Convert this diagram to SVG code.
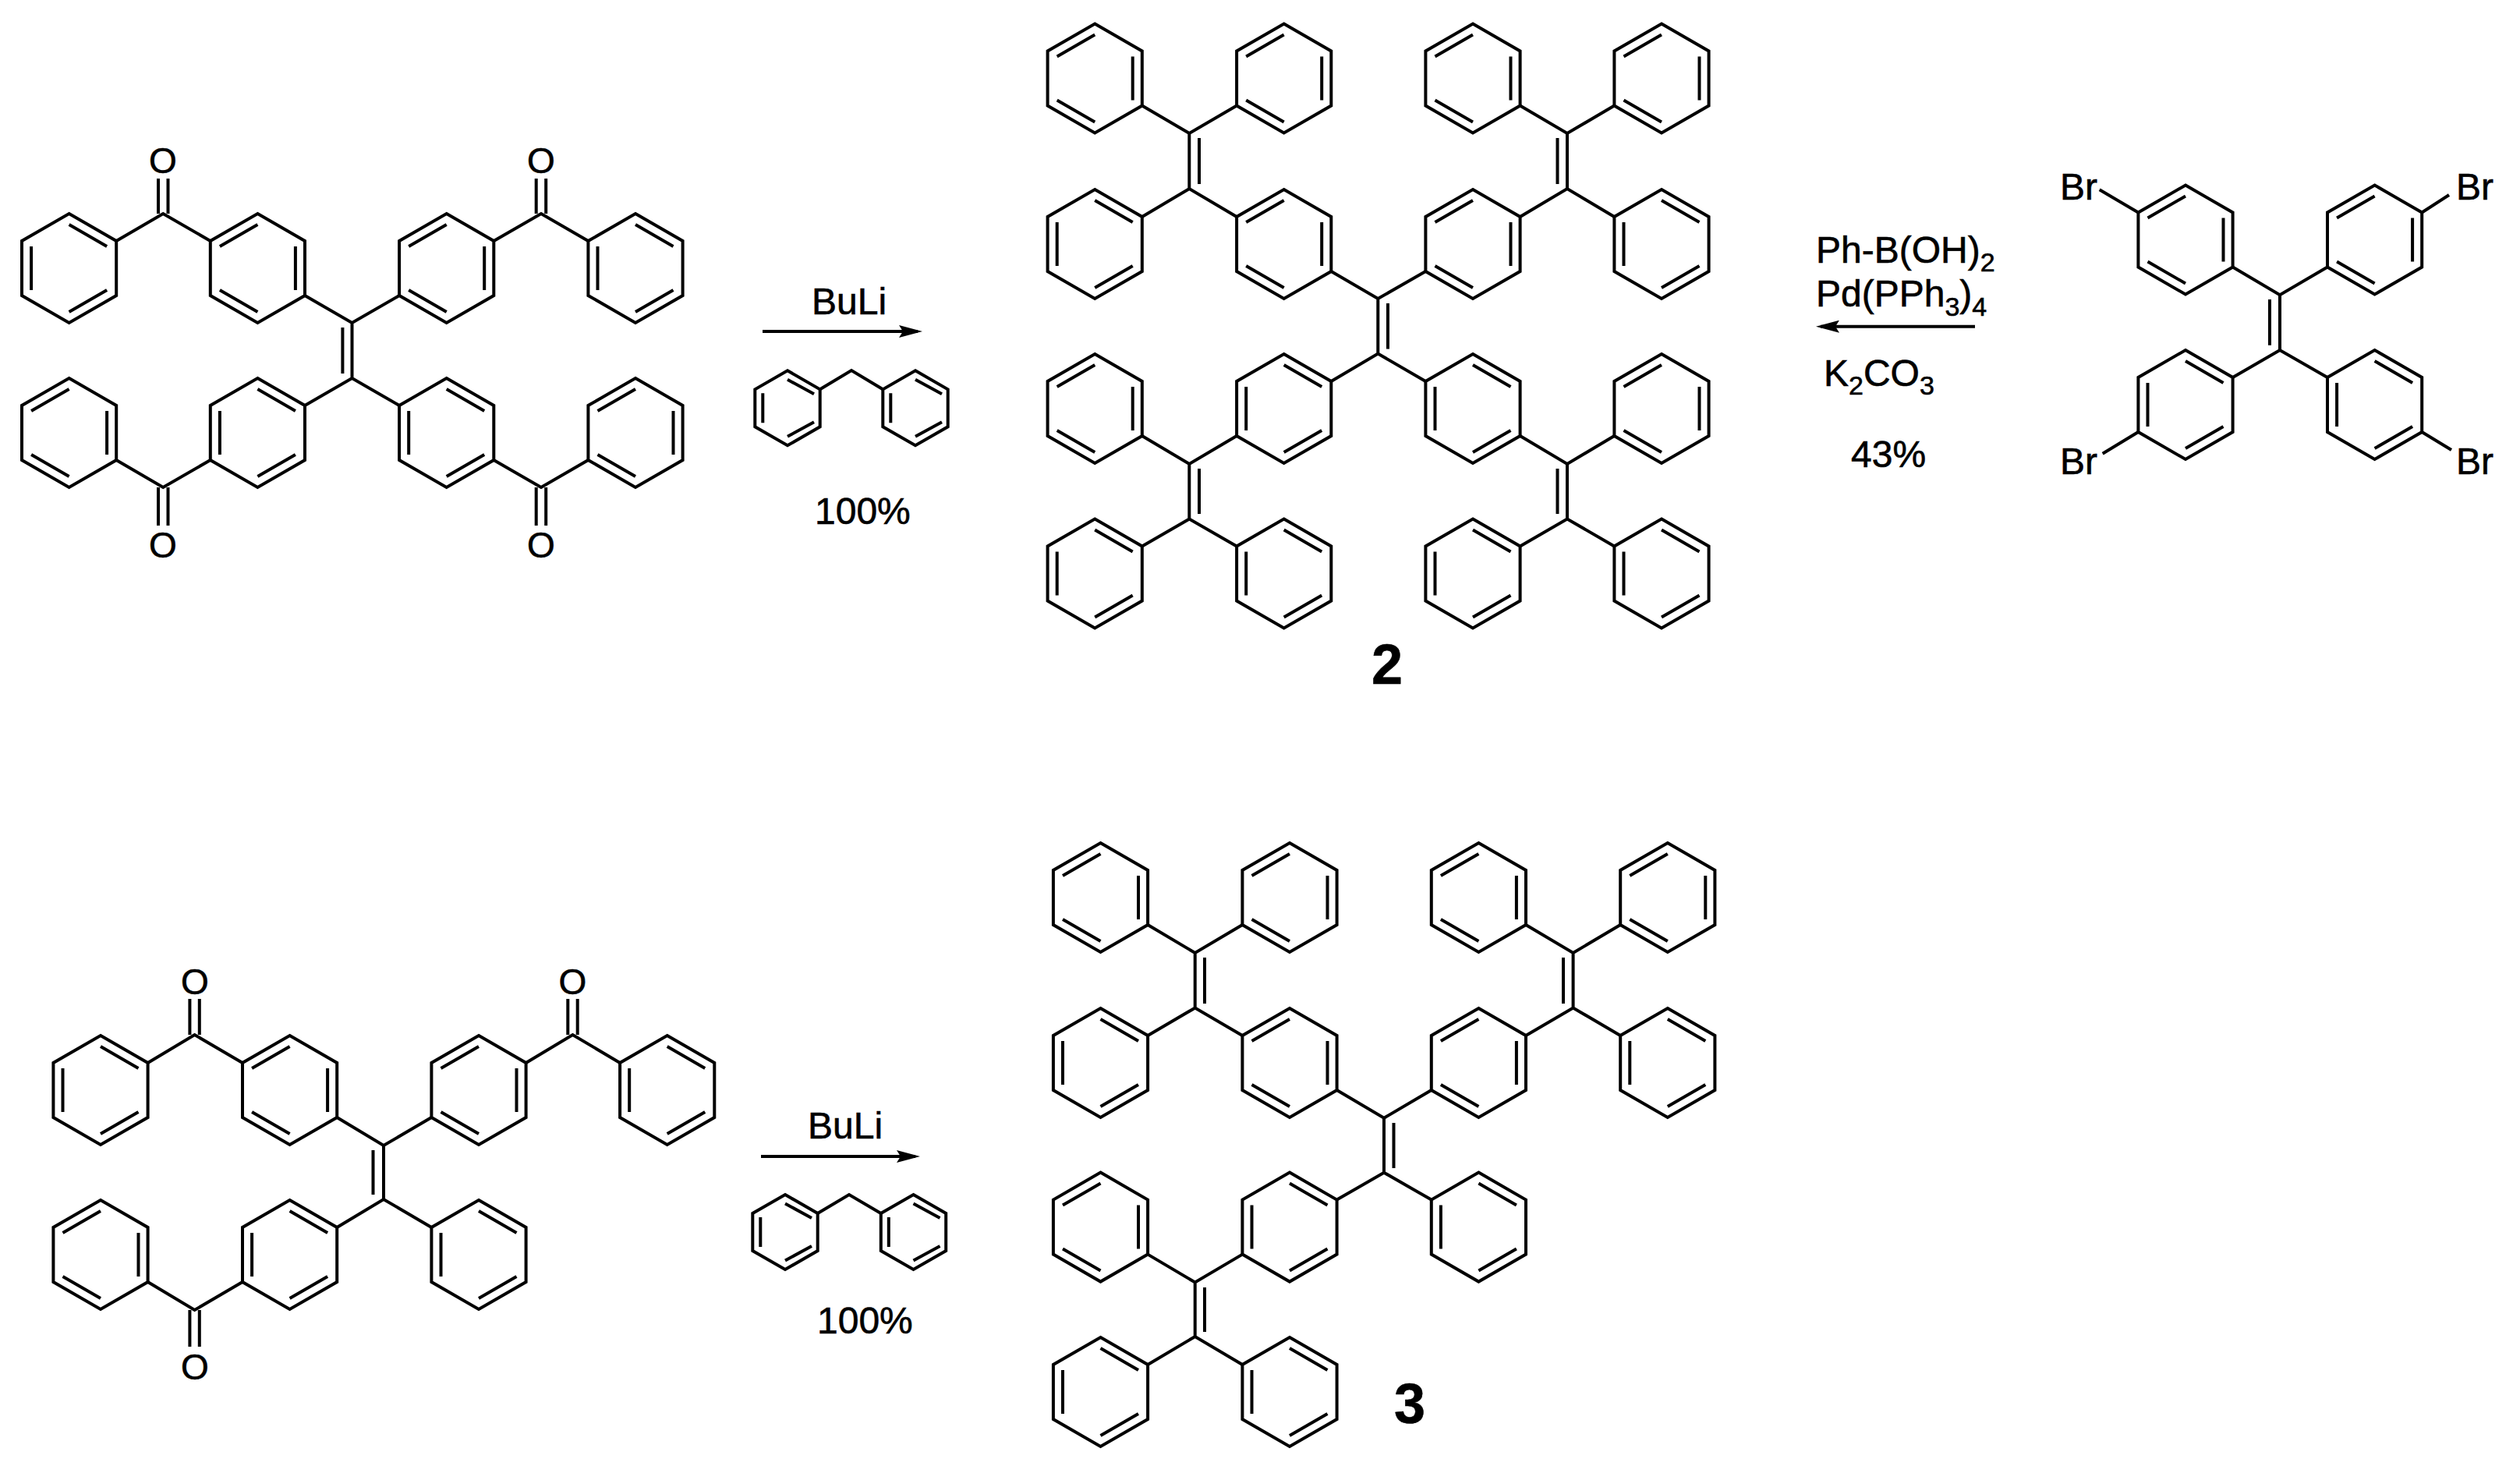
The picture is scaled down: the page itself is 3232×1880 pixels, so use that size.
<svg xmlns="http://www.w3.org/2000/svg" width="3232" height="1880" viewBox="0 0 3232 1880">
<style>
.b{fill:none;stroke:#000;stroke-width:4;stroke-linejoin:miter;stroke-linecap:butt}
.a{stroke:#000;stroke-width:4;fill:none}
text{font-family:"Liberation Sans",Arial,sans-serif;font-size:48px;fill:#000;stroke:#000;stroke-width:.6}
.o{font-size:46px;text-anchor:middle}
.s{font-size:34px}
.n{font-size:72px;font-weight:bold;text-anchor:middle}
</style>
<defs>
<marker id="head" viewBox="0 0 30 16" refX="24" refY="8" markerWidth="30" markerHeight="16" markerUnits="userSpaceOnUse" orient="auto"><path d="M0,0L30,8L0,16L5,8Z" fill="#000"/></marker>
<path id="hex" class="b" d="M0,-70L60.6,-35V35L0,70L-60.6,35V-35Z"/>
<g id="A"><use href="#hex"/><path class="b" d="M0,-56L48.5,-28M0,56L48.5,28M-48.5,-28V28"/></g>
<g id="B"><use href="#hex"/><path class="b" d="M0,-56L-48.5,-28M0,56L-48.5,28M48.5,-28V28"/></g>
<g id="a"><path class="b" d="M0,-48L41.7,-24V24L0,48L-41.7,24V-24Z"/><path class="b" d="M0,-36.5L34,-18M0,36.5L34,18M-31.7,-19V19"/></g>
</defs>

<g id="connectors">
<line class="a" x1="978" y1="425" x2="1177" y2="425" marker-end="url(#head)"/>
<line class="a" x1="2533" y1="418.7" x2="2335" y2="418.7" marker-end="url(#head)"/>
<line class="a" x1="976" y1="1483" x2="1174" y2="1483" marker-end="url(#head)"/>
</g>

<g id="ketone-tetra">
<use href="#A" x="88.6" y="344"/><use href="#B" x="330.4" y="344"/><use href="#B" x="572.7" y="344"/><use href="#A" x="815" y="344"/>
<use href="#B" x="88.6" y="555"/><use href="#A" x="330.4" y="555"/><use href="#A" x="572.7" y="555"/><use href="#B" x="815" y="555"/>
<path class="b" d="M391,379L451.5,414L512.1,379M391,520L451.5,485L512.1,520M451.5,414V485M439.4,420V479"/>
<path class="b" d="M149.2,309L209.2,274L269.8,309M633.3,309L694,274L754.4,309M149.2,590L209.2,625L269.8,590M633.3,590L694,625L754.4,590"/>
<path class="b" d="M203,229V274M215.5,229V274M687.7,229V274M700.2,229V274M203,625V674M215.5,625V674M687.7,625V674M700.2,625V674"/>
<text class="o" x="209" y="222">O</text><text class="o" x="694" y="222">O</text><text class="o" x="209" y="715">O</text><text class="o" x="694" y="715">O</text>
</g>

<g id="reagents-1">
<text x="1041" y="403">BuLi</text>
<use href="#a" x="1010" y="523.3"/><use href="#a" x="1174" y="523.3"/>
<path class="b" d="M1051.7,499.3L1092,475L1132.3,499.3"/>
<text x="1045" y="672">100%</text>
</g>

<g id="product-2">
<use href="#B" x="1404.2" y="100.5"/><use href="#B" x="1646.7" y="100.5"/><use href="#B" x="1889" y="100.5"/><use href="#B" x="2131" y="100.5"/>
<use href="#A" x="1404.2" y="313"/><use href="#B" x="1646.7" y="313"/><use href="#B" x="1889" y="313"/><use href="#A" x="2131" y="313"/>
<use href="#B" x="1404.2" y="524"/><use href="#A" x="1646.7" y="524"/><use href="#A" x="1889" y="524"/><use href="#B" x="2131" y="524"/>
<use href="#A" x="1404.2" y="735.5"/><use href="#A" x="1646.7" y="735.5"/><use href="#A" x="1889" y="735.5"/><use href="#A" x="2131" y="735.5"/>
<path class="b" d="M1464.8,135.5L1525.3,171L1586.1,135.5M1464.8,278L1525.3,242L1586.1,278M1525.3,171V242M1538,177V236"/>
<path class="b" d="M1949.6,135.5L2010,171L2070.4,135.5M1949.6,278L2010,242L2070.4,278M2010,171V242M1997.5,177V236"/>
<path class="b" d="M1707.3,348L1767.3,383L1828.4,348M1707.3,489L1767.3,453.5L1828.4,489M1767.3,383V453.5M1780,389V447.5"/>
<path class="b" d="M1464.8,559L1525.3,595L1586.1,559M1464.8,700.5L1525.3,665.5L1586.1,700.5M1525.3,595V665.5M1538,601V659"/>
<path class="b" d="M1949.6,559L2010,595L2070.4,559M1949.6,700.5L2010,665.5L2070.4,700.5M2010,595V665.5M1997.5,601V659"/>
<text class="n" x="1779" y="877">2</text>
</g>

<g id="reagents-2">
<text x="2329" y="337">Ph-B(OH)<tspan class="s" dy="11">2</tspan></text>
<text x="2329" y="393">Pd(PPh<tspan class="s" dy="12">3</tspan><tspan dy="-12">)</tspan><tspan class="s" dy="12">4</tspan></text>
<text x="2339" y="495">K<tspan class="s" dy="11">2</tspan><tspan dy="-11">CO</tspan><tspan class="s" dy="11">3</tspan></text>
<text x="2374" y="599">43%</text>
</g>

<g id="tetrabromo">
<use href="#B" x="2803" y="307.5"/><use href="#B" x="3045.6" y="307.5"/><use href="#A" x="2803" y="519"/><use href="#A" x="3045.6" y="519"/>
<path class="b" d="M2863.6,342.5L2924,378.3L2985,342.5M2863.6,484L2924,449L2985,484M2924,378.3V449M2911,384V442.7"/>
<path class="b" d="M2742.4,272.5L2692.7,243.3M3106.2,272.5L3141,250M2742.4,554L2696.7,581.7M3106.2,554L3144,577"/>
<text x="2642" y="256">Br</text><text x="3150" y="256">Br</text><text x="2642" y="607.7">Br</text><text x="3150" y="607.7">Br</text>
</g>

<g id="ketone-tri">
<use href="#A" x="129" y="1398"/><use href="#B" x="371.6" y="1398"/><use href="#B" x="614" y="1398"/><use href="#A" x="855.7" y="1398"/>
<use href="#B" x="129" y="1609"/><use href="#A" x="371.6" y="1609"/><use href="#A" x="614" y="1609"/>
<path class="b" d="M432.2,1433L492,1469L553.4,1433M432.2,1574L492,1538L553.4,1574M492,1469V1538M478.5,1475V1532"/>
<path class="b" d="M189.6,1363L249.6,1327L311,1363M674.6,1363L734.5,1327L795.1,1363M189.6,1644L249.6,1680L311,1644"/>
<path class="b" d="M243.4,1281V1327M255.8,1281V1327M728.3,1281V1327M740.7,1281V1327M243.4,1680V1727M255.8,1680V1727"/>
<text class="o" x="250" y="1275">O</text><text class="o" x="734.5" y="1275">O</text><text class="o" x="250" y="1769">O</text>
</g>

<g id="reagents-3">
<text x="1036" y="1460">BuLi</text>
<use href="#a" x="1007" y="1580"/><use href="#a" x="1171.5" y="1580"/>
<path class="b" d="M1048.7,1556L1089,1532L1129.8,1556"/>
<text x="1048" y="1710">100%</text>
</g>

<g id="product-3">
<use href="#B" x="1411.5" y="1151"/><use href="#B" x="1654" y="1151"/><use href="#B" x="1896.4" y="1151"/><use href="#B" x="2138.8" y="1151"/>
<use href="#A" x="1411.5" y="1363"/><use href="#B" x="1654" y="1363"/><use href="#B" x="1896.4" y="1363"/><use href="#A" x="2138.8" y="1363"/>
<use href="#B" x="1411.5" y="1573.6"/><use href="#A" x="1654" y="1573.6"/><use href="#A" x="1896.4" y="1573.6"/>
<use href="#A" x="1411.5" y="1785"/><use href="#A" x="1654" y="1785"/>
<path class="b" d="M1472.1,1186L1532.7,1222L1593.4,1186M1472.1,1328L1532.7,1292.5L1593.4,1328M1532.7,1222V1292.5M1545,1228V1287"/>
<path class="b" d="M1957,1186L2017.6,1222L2078.2,1186M1957,1328L2017.6,1292.5L2078.2,1328M2017.6,1222V1292.5M2005,1228V1287"/>
<path class="b" d="M1714.6,1398L1775,1433.8L1835.8,1398M1714.6,1538.6L1775,1503.7L1835.8,1538.6M1775,1433.8V1503.7M1787.5,1440V1498"/>
<path class="b" d="M1472.1,1608.6L1532.7,1644.5L1593.4,1608.6M1472.1,1750L1532.7,1714L1593.4,1750M1532.7,1644.5V1714M1545,1651V1708"/>
<text class="n" x="1808" y="1825">3</text>
</g>
</svg>
